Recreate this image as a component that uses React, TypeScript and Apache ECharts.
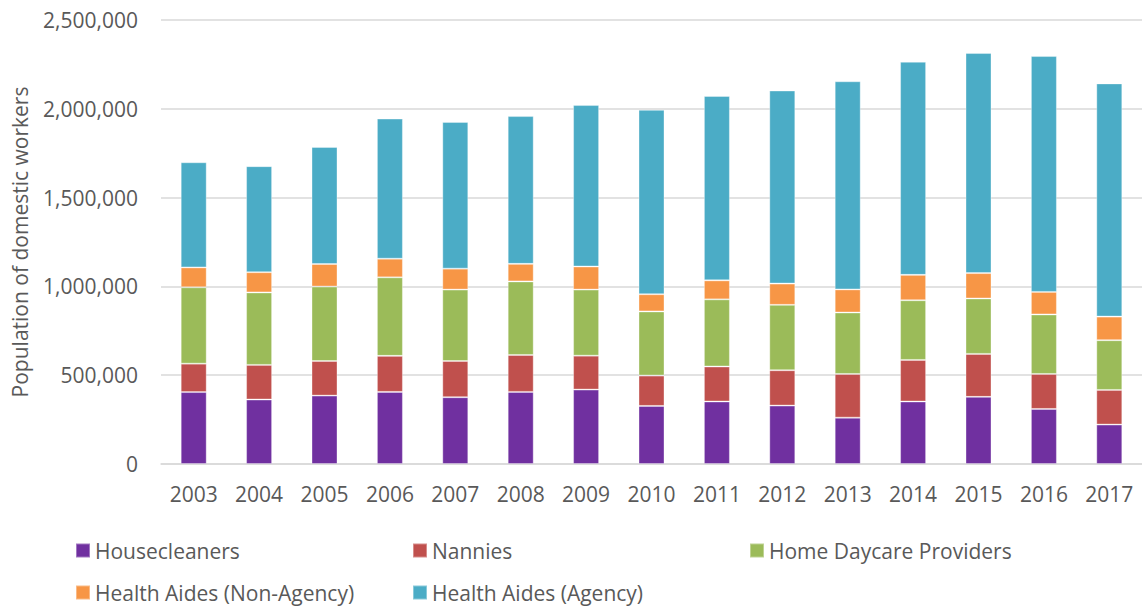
import React, { useEffect, useRef } from "react";
import * as echarts from "echarts";

const years = ["2003", "2004", "2005", "2006", "2007", "2008", "2009", "2010", "2011", "2012", "2013", "2014", "2015", "2016", "2017"];
const housecleaners = [405000, 363000, 385000, 406000, 376000, 406000, 419000, 327000, 352000, 329000, 261000, 352000, 378000, 310000, 222000];
const nannies = [160000, 195000, 195000, 203000, 204000, 208000, 191000, 171000, 197000, 199000, 246000, 234000, 242000, 197000, 195000];
const daycare = [430000, 408000, 419000, 442000, 402000, 414000, 372000, 361000, 378000, 368000, 346000, 336000, 312000, 335000, 280000];
const nonAgency = [112000, 114000, 127000, 105000, 118000, 99000, 130000, 97000, 107000, 120000, 130000, 143000, 143000, 127000, 133000];
const agency = [592000, 597000, 659000, 789000, 826000, 832000, 909000, 1038000, 1038000, 1087000, 1172000, 1200000, 1239000, 1328000, 1313000];

const seriesNames = ["Housecleaners", "Nannies", "Home Daycare Providers", "Health Aides (Non-Agency)", "Health Aides (Agency)"];
const seriesData = [housecleaners, nannies, daycare, nonAgency, agency];
const colors = ["#7030A0", "#C0504D", "#9BBB59", "#F79646", "#4BACC6"];

const FONT = "'Open Sans', 'Noto Sans', sans-serif";
const TEXT_COLOR = "#595959";
const FS = 21;

export default function App() {
  const ref = useRef<HTMLDivElement>(null);
  useEffect(() => {
    if (!ref.current) return;
    const chart = echarts.init(ref.current, undefined, { renderer: "svg" });
    const legendPos = [
      { left: 75, top: 540 },
      { left: 412, top: 540 },
      { left: 749, top: 540 },
      { left: 75, top: 582 },
      { left: 412, top: 582 },
    ];
    chart.setOption({
      animation: false,
      color: colors,
      textStyle: { fontFamily: FONT },
      grid: { left: 161, top: 20, width: 984, height: 444, containLabel: false },
      legend: seriesNames.map((n, i) => ({
        data: [n],
        left: legendPos[i].left,
        top: legendPos[i].top,
        padding: 0,
        itemWidth: 14,
        itemHeight: 14,
        icon: "rect",
        selectedMode: false,
        textStyle: { fontSize: FS, color: TEXT_COLOR, fontFamily: FONT, lineHeight: 20 },
      })),
      xAxis: {
        type: "category",
        data: years,
        axisTick: { show: false },
        axisLine: { lineStyle: { color: "#D9D9D9", width: 1.5 } },
        axisLabel: { fontSize: FS, color: TEXT_COLOR, fontFamily: FONT, margin: 19 },
      },
      yAxis: {
        type: "value",
        min: 0,
        max: 2500000,
        interval: 500000,
        name: "Population of domestic workers",
        nameLocation: "middle",
        nameGap: 131,
        nameTextStyle: { fontSize: FS, color: TEXT_COLOR, fontFamily: FONT },
        axisLine: { show: false },
        axisTick: { show: false },
        splitLine: { lineStyle: { color: "#D9D9D9", width: 1.5 } },
        axisLabel: {
          fontSize: FS,
          color: TEXT_COLOR,
          fontFamily: FONT,
          margin: 23,
          formatter: (v: number) => v.toLocaleString("en-US"),
        },
      },
      series: seriesNames.map((n, i) => ({
        name: n,
        type: "bar",
        stack: "total",
        barWidth: 26,
        data: seriesData[i],
        itemStyle: { borderColor: "rgba(255,255,255,0.35)", borderWidth: 1 },
      })),
    });
    return () => chart.dispose();
  }, []);
  return (
    <div
      ref={ref}
      style={{ position: "fixed", left: 0, top: 0, width: 1142, height: 608, background: "#fff" }}
    />
  );
}
